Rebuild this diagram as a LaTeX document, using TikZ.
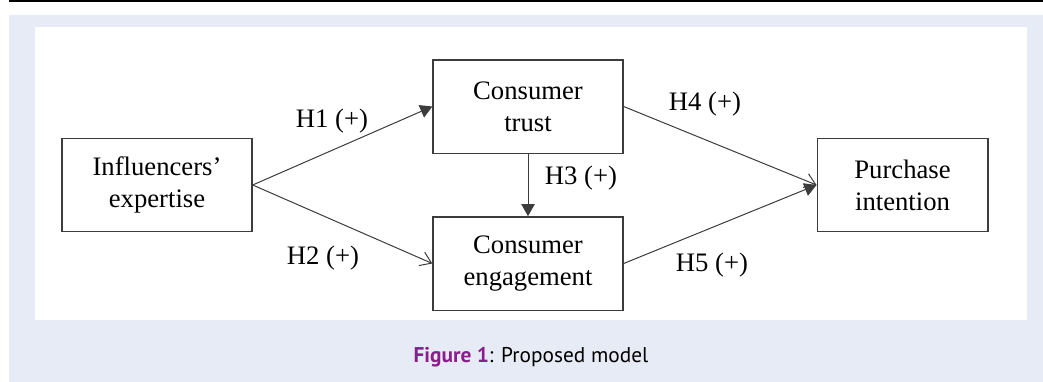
\documentclass[tikz,border=0pt]{standalone}
\usepackage{fontspec}
\setmainfont{Liberation Serif}
\newfontfamily\capfont{PT Sans}
\usetikzlibrary{positioning,arrows.meta}
\definecolor{panelblue}{RGB}{231,235,246}
\definecolor{figpurple}{RGB}{140,29,140}
\definecolor{edgegray}{RGB}{60,60,60}

\begin{document}
\begin{tikzpicture}[x=0.75pt,y=-0.75pt,
    varbox/.style={draw=edgegray,line width=1pt,fill=white,align=center,
        inner sep=0pt,font=\fontsize{20}{24}\selectfont,minimum height=70pt},
    hyplabel/.style={font=\fontsize{20}{24}\selectfont,inner sep=0pt},
    pathsolid/.style={draw=edgegray,line width=0.75pt,
        -{Triangle[length=9pt,width=10pt]}},
    pathopen/.style={draw=edgegray,line width=0.75pt,
        -{Straight Barb[length=8pt,width=11pt]}}]
    % Frame
    \useasboundingbox (0,0) rectangle (1043,382);
    \fill[white] (0,0) rectangle (1043,382);
    \fill[panelblue] (9,15) rectangle (1043,382);
    \fill[white] (35,27) rectangle (1027,320);
    \draw[line width=1.2pt] (9,0.8) -- (1043,0.8);
    
    % Variables
    \node[varbox,minimum width=142.5pt] (expertise) at (157,185)
        {Influencers'\\expertise};
    \node[varbox,minimum width=142.5pt] (trust) at (528,106.5)
        {Consumer\\trust};
    \node[varbox,minimum width=142.5pt] (engagement) at (528,263.5)
        {Consumer\\engagement};
    \node[varbox,minimum width=128pt] (intention) at (902.5,185)
        {Purchase\\intention};
    
    % Hypotheses
    \draw[pathsolid] (expertise.east) -- (trust.west);
    \draw[pathopen] (expertise.east) -- (engagement.west);
    \draw[pathsolid] (trust.south) -- (engagement.north);
    \draw[pathopen] (trust.east) -- (intention.west);
    \draw[pathsolid] (engagement.east) -- (intention.west);
    
    % Labels
    \node[hyplabel] (h1) at (332,121) {H1 (+)};
    \node[hyplabel] (h2) at (323,258) {H2 (+)};
    \node[hyplabel] (h3) at (581,178) {H3 (+)};
    \node[hyplabel] (h4) at (705,104) {H4 (+)};
    \node[hyplabel] (h5) at (712,265) {H5 (+)};
    
    % Caption
    \node[font=\capfont\fontsize{16}{19}\selectfont,inner sep=0pt] (caption)
        at (531,357) {\textcolor{figpurple}{\bfseries Figure 1}: Proposed model};
\end{tikzpicture}
\end{document}
